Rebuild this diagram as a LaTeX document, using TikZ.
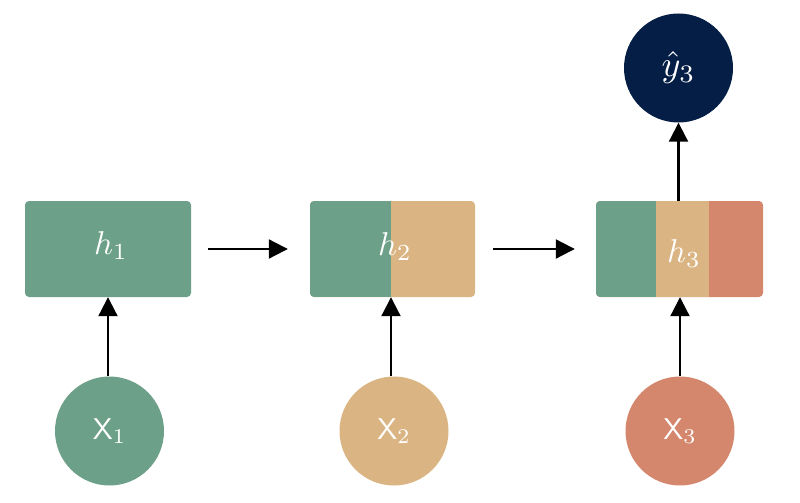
\documentclass[tikz,border=0pt]{standalone}
\usepackage{graphicx}
\usetikzlibrary{arrows.meta}
\definecolor{sage}{HTML}{6DA088}
\definecolor{sand}{HTML}{DAB583}
\definecolor{clay}{HTML}{D4876D}
\definecolor{navy}{HTML}{041E45}
\newcommand{\bigsym}[2][3.3]{\scalebox{#1}{$#2$}}
\begin{document}
\begin{tikzpicture}[x=1pt,y=-1pt,
  cell/.style={rectangle, rounded corners=4pt, minimum width=166pt, minimum height=96pt, inner sep=0pt},
  lab/.style={text=white, inner sep=0pt},
  unit/.style={circle, minimum size=109pt, inner sep=0pt, text=white},
  arr/.style={line width=2.1pt, -{Triangle[width=19pt,length=19pt]}}
]
\useasboundingbox (0,0) rectangle (800,503);
% hidden states
\node[cell, fill=sage] (h1) at (108,249) {};
\node[cell, minimum width=165pt, fill=sand,
  path picture={\fill[sage, sharp corners] (path picture bounding box.north west) rectangle ([xshift=81pt]path picture bounding box.south west);}] (h2) at (392.5,249) {};
\node[cell, minimum width=167pt, fill=clay,
  path picture={\fill[sage, sharp corners] (path picture bounding box.north west) rectangle ([xshift=60pt]path picture bounding box.south west);
                \fill[sand, sharp corners] ([xshift=60pt]path picture bounding box.north west) rectangle ([xshift=113pt]path picture bounding box.south west);}] (h3) at (679.5,249) {};
\node[lab] (l1) at (111,246) {\bigsym{h_1}};
\node[lab] (l2) at (395,247) {\bigsym{h_2}};
\node[lab] (l3) at (684,254) {\bigsym{h_3}};
% inputs
\node[unit, fill=sage] (x1) at (109.5,431) {\bigsym[3]{\mathsf{X}_1}};
\node[unit, fill=sand] (x2) at (394,431) {\bigsym[3]{\mathsf{X}_2}};
\node[unit, fill=clay] (x3) at (680,431) {\bigsym[3]{\mathsf{X}_3}};
% output
\node[unit, fill=navy] (y3) at (678.5,68) {\bigsym[3.6]{\hat{y}_3}};
% connectors
\draw[arr] (x1.north -| h1.south) -- (h1.south);
\draw[arr] (x2.north -| 391,0) -- (391,0 |- h2.south);
\draw[arr] (x3.north) -- (x3.north |- h3.south);
\draw[arr, shorten <=17pt, shorten >=22pt] (h1.east) -- (h2.west);
\draw[arr, shorten <=18pt, shorten >=21pt] (h2.east) -- (h3.west);
\draw[arr] (h3.north -| y3.south) -- (y3.south);
\end{tikzpicture}
\end{document}
